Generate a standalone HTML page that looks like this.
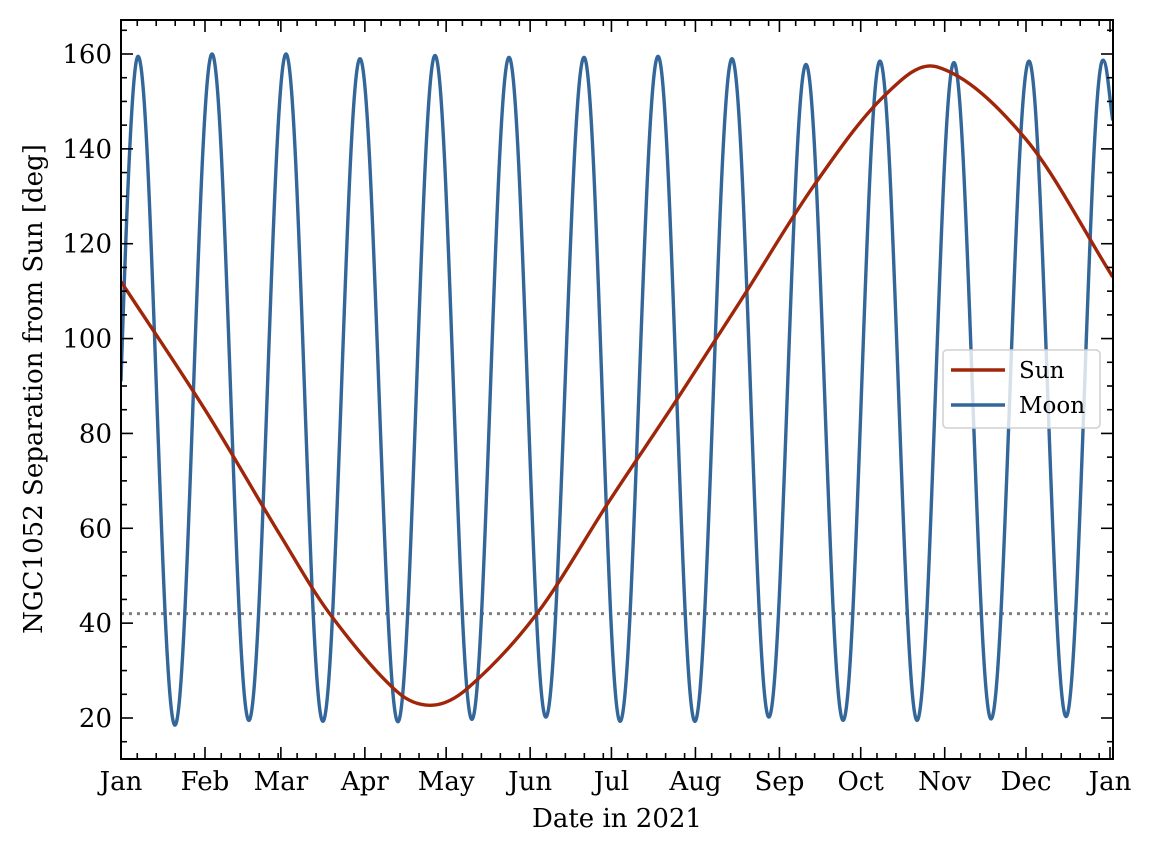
<!DOCTYPE html>
<html><head><meta charset="utf-8"><style>
body{margin:0;background:#fff}
svg text{font-family:"DejaVu Serif","Liberation Serif",serif;fill:#000}
</style></head><body>
<svg id="chart" width="1155" height="854" viewBox="0 0 1155 854" xmlns="http://www.w3.org/2000/svg">
<g id="plot"></g>
</svg>
<script>
const monthLabels=["Jan","Feb","Mar","Apr","May","Jun","Jul","Aug","Sep","Oct","Nov","Dec","Jan"];
const monthStarts=[0,31,59,90,120,151,181,212,243,273,304,334,365];
const yTicks=[20,40,60,80,100,120,140,160];
const sunDays=[0,31,58.7,77,102,115,128,153.5,180.5,205,229.6,255.4,281.2,301,334,366];
const sunVals=[112,85,58.6,42,25.5,22.7,26.3,42,66,87,108.8,132,150.9,157.3,142,113];
const moonPeakDays=[6.3,33.6,60.9,88.2,115.9,143.2,170.9,198.2,225.5,252.8,280.1,307.4,335.1,362.4];
const moonPeakVals=[159.5,160,160,159,159.7,159.3,159.3,159.5,159,157.8,158.5,158.2,158.5,158.7];
const moonTroughDays=[19.9,47.2,74.5,102.2,129.5,156.8,184.2,211.8,239.1,266.5,293.8,321.1,348.8];
const moonTroughVals=[18.5,19.5,19.3,19.2,19.7,20.2,19.3,19.3,20.2,19.5,19.5,19.8,20.3];
const moonStart=[0,91];
const moonEnd=[366,146];
const threshold=42;

const L=121,R=1113,T=20,B=759;
const X=d=>L+(d)*(989/365);
const Y=v=>718-(v-20)*(664/140);
const NS="http://www.w3.org/2000/svg";
const g=document.getElementById('plot');
function mk(t,a,p){const e=document.createElementNS(NS,t);for(const k in a)e.setAttribute(k,a[k]);(p||g).appendChild(e);return e;}

let th=mk('line',{x1:L,x2:R,y1:Y(threshold),y2:Y(threshold),stroke:'#808080','stroke-width':3,'stroke-dasharray':'3,5'});



let pts=[];
for(let i=0;i<moonPeakDays.length;i++){pts.push([moonPeakDays[i],moonPeakVals[i]]);if(i<moonTroughDays.length)pts.push([moonTroughDays[i],moonTroughVals[i]]);}
let d=`M${X(moonStart[0])},${Y(moonStart[1])} C${X(moonStart[0]+2.5)},${Y(moonStart[1]+45)} ${X(pts[0][0]-1.8)},${Y(pts[0][1])} ${X(pts[0][0])},${Y(pts[0][1])}`;
for(let i=1;i<pts.length;i++){const a=pts[i-1],b=pts[i],dx=b[0]-a[0];
d+=` C${X(a[0]+dx*0.36)},${Y(a[1])} ${X(b[0]-dx*0.36)},${Y(b[1])} ${X(b[0])},${Y(b[1])}`;}
const lp=pts[pts.length-1];
d+=` C${X(lp[0]+1.5)},${Y(lp[1])} ${X(moonEnd[0]-1.5)},${Y(moonEnd[1]+6)} ${X(moonEnd[0])},${Y(moonEnd[1])}`;
let clip=mk('clipPath',{id:'c'});mk('rect',{x:L,y:T,width:R-L,height:B-T},clip);
let moon=mk('path',{d:d,fill:'none',stroke:'#336699','stroke-width':3.4,'clip-path':'url(#c)'});



let sd=`M${X(sunDays[0])},${Y(sunVals[0])}`;
for(let i=0;i<sunDays.length-1;i++){
const i0=Math.max(i-1,0),i3=Math.min(i+2,sunDays.length-1);
const p0=[X(sunDays[i0]),Y(sunVals[i0])],p1=[X(sunDays[i]),Y(sunVals[i])],p2=[X(sunDays[i+1]),Y(sunVals[i+1])],p3=[X(sunDays[i3]),Y(sunVals[i3])];
const h=p2[0]-p1[0];
const m1=(p2[1]-p0[1])/(p2[0]-p0[0]),m2=(p3[1]-p1[1])/(p3[0]-p1[0]);
sd+=` C${p1[0]+h/3},${p1[1]+m1*h/3} ${p2[0]-h/3},${p2[1]-m2*h/3} ${p2[0]},${p2[1]}`;}
let sun=mk('path',{d:sd,fill:'none',stroke:'#a0260a','stroke-width':3.4,'clip-path':'url(#c)'});



let fr=mk('rect',{x:L,y:T,width:R-L,height:B-T,fill:'none',stroke:'#000','stroke-width':2});



for(let v=15;v<=165;v+=5){const y=Y(v);if(y<T||y>B)continue;const len=v%20===0?12:6;
mk('line',{x1:L,x2:L+len,y1:y,y2:y,stroke:'#000','stroke-width':1.6});mk('line',{x1:R,x2:R-len,y1:y,y2:y,stroke:'#000','stroke-width':1.6});}
yTicks.forEach(v=>{let t=mk('text',{x:L-9,y:Y(v)+9,'text-anchor':'end','font-size':26});t.textContent=v;

});
for(let m=0;m<12;m++){[6,13,20,27].forEach(o=>{const x=X(monthStarts[m]+o);
mk('line',{x1:x,x2:x,y1:B,y2:B-6,stroke:'#000','stroke-width':1.6});mk('line',{x1:x,x2:x,y1:T,y2:T+6,stroke:'#000','stroke-width':1.6});});}
monthStarts.forEach((s,i)=>{const x=X(s);
mk('line',{x1:x,x2:x,y1:B,y2:B-12,stroke:'#000','stroke-width':1.6});mk('line',{x1:x,x2:x,y1:T,y2:T+12,stroke:'#000','stroke-width':1.6});
let t=mk('text',{x:x,y:790,'text-anchor':'middle','font-size':26});t.textContent=monthLabels[i];

});

let xt=mk('text',{x:617,y:827,'text-anchor':'middle','font-size':26});xt.textContent='Date in 2021';


let yt=mk('text',{x:0,y:0,'text-anchor':'middle','font-size':26,transform:'translate(42,389) rotate(-90)'});yt.textContent='NGC1052 Separation from Sun [deg]';



let lg=mk('g',{});


mk('rect',{x:943,y:350,width:157,height:78,rx:4,fill:'rgba(255,255,255,0.8)',stroke:'#d0d0d0','stroke-width':1.5},lg);
mk('line',{x1:951,x2:1005,y1:370,y2:370,stroke:'#a0260a','stroke-width':3.4},lg);
mk('line',{x1:951,x2:1005,y1:405,y2:405,stroke:'#336699','stroke-width':3.4},lg);
let t1=mk('text',{x:1019,y:378,'font-size':23},lg);t1.textContent='Sun';


let t2=mk('text',{x:1019,y:413,'font-size':23},lg);t2.textContent='Moon';


</script>
</body></html>
